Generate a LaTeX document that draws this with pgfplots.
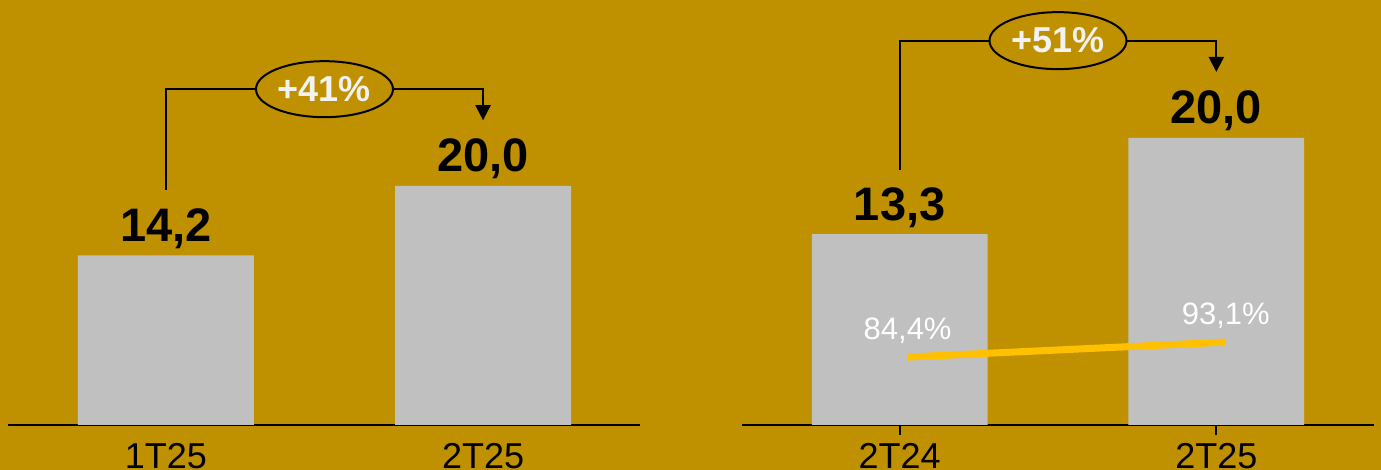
\documentclass[border=0pt]{standalone}
\usepackage{pgfplots}
\pgfplotsset{compat=1.18}
\usepackage{fontspec}
\setmainfont{Liberation Sans}
\usetikzlibrary{arrows.meta,shapes.geometric}
\definecolor{bg}{HTML}{BF9000}
\definecolor{barc}{HTML}{C0C0C0}
\definecolor{linec}{HTML}{FFC000}
\definecolor{offw}{HTML}{F2F2F2}
\pgfkeys{/pgf/number format/assume math mode=true}
\tikzset{growth/.style={ellipse, draw=black, line width=1pt, fill=bg, inner sep=0pt, text=offw, font=\bfseries\fontsize{18}{20}\selectfont}}
\begin{document}
\begin{tikzpicture}
\fill[bg] (0,0) rectangle (690.5pt,235pt);
\path[use as bounding box] (0,0) rectangle (690.5pt,235pt);
\pgfplotsset{
 panel/.style={
  at={(#1,22.5pt)}, anchor=south west, scale only axis, width=316pt, height=200pt,
  ymin=0, axis x line*=bottom, hide y axis,
  axis line style={black,line width=1pt,-},
  xtick={0,1}, clip=false,
  xticklabel style={font=\fontsize{18}{20}\selectfont, anchor=base},
  ybar, bar width=0.555, bar shift=0pt,
  nodes near coords={\pgfmathprintnumber[fixed,fixed zerofill,precision=1,use comma,assume math mode=true]{\pgfplotspointmeta}},
  every node near coord/.append style={font=\bfseries\fontsize{23.5}{26}\selectfont, anchor=base, yshift=7pt, text=black},
 },
}
% Left panel
\begin{axis}[panel=4pt, xmin=-0.498, xmax=1.495, ymax=33.47, xticklabels={1T25,2T25}, major tick length=0pt, xticklabel style={yshift=-22pt}]
\addplot[draw=none, fill=barc] coordinates {(0,14.2) (1,20.0)};
\draw[line width=1pt, -{Triangle[length=7.5pt,width=7.5pt]}] (axis cs:0,19.7) |- (axis cs:1,28.1) -- (axis cs:1,25.5);
\node[growth, minimum width=68.5pt, minimum height=28pt] at (axis cs:0.5,28.1) {+41\%};
\end{axis}
% Right panel
\begin{axis}[panel=371pt, xmin=-0.498, xmax=1.498, ymax=27.87, xticklabels={2T24,2T25}, major tick length=5pt, tick align=outside, tick style={black,line width=1pt}, xticklabel style={yshift=-17pt}]
\addplot[draw=none, fill=barc] coordinates {(0,13.3) (1,20.0)};
\draw[line width=1pt, -{Triangle[length=7.5pt,width=7.5pt]}] (axis cs:0,17.77) |- (axis cs:1,26.78) -- (axis cs:1,24.6);
\node[growth, minimum width=68.5pt, minimum height=28.5pt] at (axis cs:0.5,26.78) {+51\%};
\end{axis}
\begin{axis}[at={(371pt,22.5pt)}, anchor=south west, scale only axis, width=316pt, height=200pt,
  xmin=-0.498, xmax=1.498, ymin=45, ymax=277, hide axis, clip=false]
\addplot[linec, line width=3.5pt, mark=none,
  nodes near coords={\pgfmathprintnumber[fixed,fixed zerofill,precision=1,use comma,assume math mode=true]{\pgfplotspointmeta}\%},
  every node near coord/.append style={text=white, font=\fontsize{15.5}{17}\selectfont, anchor=base, yshift=9pt}]
  coordinates {(0.025,84.4) (1.03,93.1)};
\end{axis}
\end{tikzpicture}
\end{document}
